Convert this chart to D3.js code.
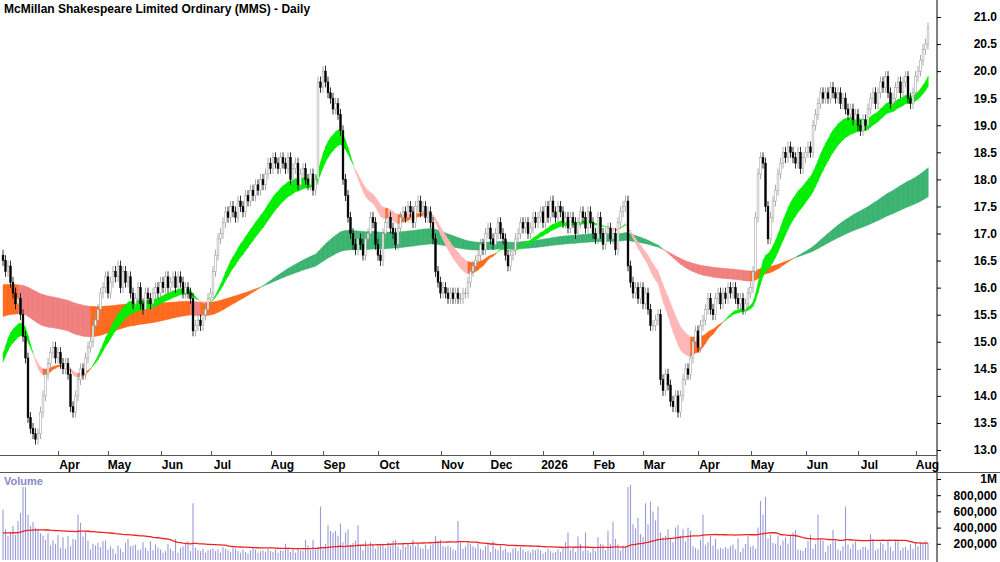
<!DOCTYPE html>
<html>
<head>
<meta charset="utf-8">
<script src="https://cdn.jsdelivr.net/npm/d3@7/dist/d3.min.js"></script>
<style>
  body { margin: 0; background: #fff; }
  text { font-family: "Liberation Sans", Arial, sans-serif; }
</style>
</head>
<body>
<svg id="chart" width="1000" height="562"></svg>
<script>
// daily closes
var closes = [
  16.5,16.3,16.4,16.1,15.9,15.7,15.8,15.5,15.1,14.7,
  13.6,13.4,13.3,13.2,13.3,13.7,14.0,14.4,14.6,14.8,
  14.9,14.7,14.8,14.6,14.5,14.6,14.4,13.8,13.7,14.0,
  14.3,14.5,14.4,14.7,14.9,15.0,15.3,15.4,15.6,15.9,
  16.0,16.2,15.9,16.1,16.3,16.2,16.4,16.0,16.3,16.1,
  16.2,15.9,15.7,15.8,16.0,15.7,15.6,15.9,15.8,15.7,
  15.9,16.0,15.9,16.1,16.0,16.2,16.0,16.1,16.2,16.0,
  16.2,16.1,15.9,16.0,15.9,15.8,15.2,15.3,15.4,15.3,
  15.5,15.6,15.8,15.9,16.3,16.6,16.9,17.0,17.2,17.4,
  17.3,17.5,17.4,17.3,17.6,17.5,17.4,17.7,17.6,17.8,
  17.7,17.9,17.8,18.0,17.9,18.1,18.3,18.2,18.4,18.3,
  18.2,18.4,18.3,18.2,18.4,18.0,18.2,18.3,17.9,18.1,
  18.2,18.0,17.9,18.1,17.8,18.0,19.8,19.7,20.0,19.8,
  19.6,19.5,19.3,19.4,19.2,18.9,18.0,17.7,17.3,17.0,
  16.8,16.7,16.9,16.8,16.6,16.9,17.0,17.3,17.2,16.8,
  16.6,16.5,17.0,17.2,17.3,17.1,17.0,16.8,17.1,17.3,
  17.4,17.3,17.5,17.4,17.2,17.5,17.6,17.4,17.5,17.3,
  17.4,17.2,16.9,16.3,16.1,15.9,16.0,15.9,15.8,15.9,
  15.8,15.9,15.8,15.8,15.9,15.9,16.1,16.3,16.4,16.5,
  16.6,16.8,16.7,17.0,17.1,16.9,16.8,17.0,17.2,17.0,
  16.9,16.6,16.4,16.6,16.7,16.9,17.0,17.2,17.1,17.2,
  17.0,17.1,17.3,17.2,17.3,17.4,17.2,17.5,17.3,17.6,
  17.4,17.3,17.5,17.4,17.2,17.3,17.1,17.3,17.2,17.0,
  17.2,17.4,17.3,17.1,17.4,17.2,17.0,16.9,17.3,17.0,
  16.8,17.0,17.1,16.9,17.0,16.7,17.2,17.4,17.5,17.6,
  16.4,16.1,15.9,16.0,15.8,16.0,15.7,15.9,15.6,15.3,
  15.3,15.4,15.5,14.3,14.1,14.4,14.2,13.9,13.8,14.0,
  13.7,14.0,14.3,14.5,14.4,14.7,15.0,15.2,14.9,15.3,
  15.4,15.6,15.8,15.6,15.5,15.8,15.9,15.7,15.9,15.8,
  16.0,15.9,16.0,15.8,15.7,15.8,15.6,15.7,15.9,16.0,
  16.3,17.3,18.1,18.4,18.3,17.5,16.9,17.3,17.6,17.8,
  18.1,18.3,18.5,18.4,18.6,18.5,18.4,18.3,18.5,18.2,
  18.4,18.5,18.6,18.5,19.0,19.2,19.4,19.6,19.5,19.6,
  19.5,19.7,19.6,19.5,19.6,19.4,19.5,19.3,19.2,19.3,
  19.1,19.2,19.0,18.9,19.1,19.0,19.3,19.5,19.6,19.4,
  19.6,19.8,19.7,19.9,19.6,19.4,19.5,19.7,19.8,19.6,
  19.8,19.9,19.5,19.4,19.6,19.9,20.0,20.2,20.4,20.5,
  20.8
];
var firstOpen = 16.6;

// daily volume, thousands of shares
var volumes = [
  620,380,300,350,420,310,480,580,900,900,
  560,420,470,400,380,330,300,250,330,180,
  240,200,310,150,280,140,300,170,260,250,
  560,460,290,350,240,130,200,180,210,160,
  230,240,130,170,140,80,180,140,100,210,
  260,170,180,190,120,130,220,150,110,230,
  120,190,150,130,90,110,200,140,110,260,
  90,150,170,210,230,110,700,150,120,110,
  140,90,120,130,140,110,130,90,160,140,
  120,100,150,140,110,90,130,100,80,120,
  150,130,90,110,120,100,140,110,100,130,
  90,120,110,200,150,100,130,90,140,120,
  110,250,180,120,250,130,160,660,130,200,
  430,360,340,360,300,450,220,340,380,180,
  210,240,430,180,120,230,170,220,190,140,
  170,190,200,150,220,180,240,250,170,130,
  190,160,200,180,250,170,210,150,140,190,
  130,180,200,300,230,250,170,160,180,160,
  130,120,480,220,140,170,220,200,170,150,
  200,140,120,170,190,100,230,140,120,180,
  120,140,100,90,140,150,110,160,130,100,
  110,90,130,120,140,120,80,100,140,110,
  90,100,130,100,160,220,340,120,150,100,
  290,200,110,340,120,90,140,110,280,200,
  190,120,360,200,470,260,190,120,180,160,
  900,930,440,390,520,320,280,700,440,720,
  600,490,660,340,280,300,380,260,220,400,
  430,300,380,230,400,360,170,150,130,250,
  560,180,220,300,180,260,130,150,140,160,
  140,170,190,130,270,100,150,200,300,160,
  180,140,400,730,560,780,270,310,210,200,
  300,180,240,280,200,300,340,370,130,120,
  110,150,230,310,140,200,560,250,240,100,
  180,200,370,240,130,110,170,660,190,140,
  200,230,120,130,160,160,130,320,260,120,
  140,220,200,120,240,160,110,230,230,120,
  150,160,120,200,140,220,170,220,210,230,
  210
];

// month labels and the bar index where each month starts
var monthLabels = ["Apr","May","Jun","Jul","Aug","Sep","Oct","Nov","Dec","2026","Feb","Mar","Apr","May","Jun","Jul","Aug"];
var monthStarts = [22,42,63,83,107,128,150,175,195,216,236,256,278,299,321,342,365];

var priceTicks = [13.0,13.5,14.0,14.5,15.0,15.5,16.0,16.5,17.0,17.5,18.0,18.5,19.0,19.5,20.0,20.5,21.0];
var volTicks = [200000,400000,600000,800000,1000000];

// moving-average ribbons: periods and values carried in from before the chart starts
var shortPeriods = [20, 30], shortSeed = [14.6, 14.5];
var longPeriods = [130, 220], longSeed = [15.45, 16.05];
var volAvgPeriod = 60, volAvgSeed = 330;

var svg = d3.select('#chart');
var W = 1000, plotRight = 937;
var n = closes.length;

var x = d3.scaleLinear().domain([0, n - 1]).range([3, 928]);
var y = d3.scaleLinear().domain([13, 21]).range([450, 17]);
var yv = d3.scaleLinear().domain([0, 1000000]).range([560, 479]);

function ema(period, seed) {
    var k = 2 / (period + 1), v = seed, out = [];
    closes.forEach(function (c) { v = v + k * (c - v); out.push(v); });
    return out;
}

function drawRibbon(fastArr, slowArr, cols) {
    for (var i = 0; i < n - 1; i++) {
        var bull = fastArr[i + 1] >= slowArr[i + 1];
        var col = bull ? cols.up : (fastArr[i + 1] >= fastArr[i] ? cols.turn : cols.down);
        var pts = [[x(i), y(fastArr[i])], [x(i + 1) + 0.3, y(fastArr[i + 1])],
                   [x(i + 1) + 0.3, y(slowArr[i + 1])], [x(i), y(slowArr[i])]];
        svg.append('path')
            .attr('d', 'M' + pts.join('L') + 'Z')
            .attr('fill', col)
            .attr('stroke', col)
            .attr('stroke-width', 0.4);
    }
}

var longF = ema(longPeriods[0], longSeed[0]), longS = ema(longPeriods[1], longSeed[1]);
var shortF = ema(shortPeriods[0], shortSeed[0]), shortS = ema(shortPeriods[1], shortSeed[1]);
drawRibbon(longF, longS, { up: '#3cb371', down: '#f08080', turn: '#ff6a1f' });
drawRibbon(shortF, shortS, { up: '#00ee00', down: '#ffb6b6', turn: '#ff6a1f' });

// candles
var candles = closes.map(function (c, i) {
    var o = i === 0 ? firstOpen : closes[i - 1];
    return { i: i, o: o, c: c, h: Math.max(o, c) + 0.1, l: Math.min(o, c) - 0.1 };
});
var cg = svg.append('g');
cg.selectAll('line').data(candles).enter().append('line')
    .attr('x1', function (d) { return x(d.i); })
    .attr('x2', function (d) { return x(d.i); })
    .attr('y1', function (d) { return y(d.h); })
    .attr('y2', function (d) { return y(d.l); })
    .attr('stroke', function (d) { return d.c >= d.o ? '#999' : '#000'; })
    .attr('stroke-width', 0.8);
cg.selectAll('rect').data(candles).enter().append('rect')
    .attr('x', function (d) { return x(d.i) - 0.9; })
    .attr('width', 1.8)
    .attr('y', function (d) { return y(Math.max(d.o, d.c)); })
    .attr('height', function (d) { return Math.max(0.8, Math.abs(y(d.o) - y(d.c))); })
    .attr('fill', function (d) { return d.c >= d.o ? '#fff' : '#000'; })
    .attr('stroke', function (d) { return d.c >= d.o ? '#999' : '#000'; })
    .attr('stroke-width', 0.5);

// title
svg.append('text').attr('x', 4).attr('y', 13)
    .attr('font-size', 12).attr('font-weight', 'bold').attr('fill', '#000')
    .text('McMillan Shakespeare Limited Ordinary (MMS) - Daily');

// price axis
var ya = d3.axisRight(y).tickValues(priceTicks).tickFormat(d3.format('.1f')).tickSize(4);
var yg = svg.append('g').attr('transform', 'translate(' + plotRight + ',0)').call(ya);
yg.selectAll('text').attr('x', 60).attr('text-anchor', 'end')
    .attr('font-size', 12).attr('font-weight', 'bold').attr('font-family', 'Liberation Sans, Arial');
yg.select('.domain').attr('d', 'M0,0V562');

// month axis strip
svg.append('line').attr('x1', 0).attr('x2', plotRight).attr('y1', 455.5).attr('y2', 455.5).attr('stroke', '#555');
svg.append('line').attr('x1', 0).attr('x2', W).attr('y1', 472.5).attr('y2', 472.5).attr('stroke', '#555');
var mg = svg.append('g');
monthStarts.forEach(function (m, k) {
    var mx = Math.round(x(m)) + 0.5;
    mg.append('line').attr('x1', mx).attr('x2', mx).attr('y1', 451).attr('y2', 456).attr('stroke', '#555');
    mg.append('text').attr('x', mx + 11).attr('y', 469).attr('text-anchor', 'middle')
        .attr('font-size', 12).attr('font-weight', 'bold').text(monthLabels[k]);
});

// volume panel
svg.append('text').attr('x', 4).attr('y', 485)
    .attr('font-size', 11).attr('font-weight', 'bold').attr('fill', '#8888cc').text('Volume');
svg.append('g').selectAll('line').data(volumes).enter().append('line')
    .attr('x1', function (d, i) { return x(i); })
    .attr('x2', function (d, i) { return x(i); })
    .attr('y1', yv(0))
    .attr('y2', function (d) { return yv(d * 1000); })
    .attr('stroke', '#9a9ad8')
    .attr('stroke-width', 1.1);

// simple average, padded with the level carried in from before the chart
var volAvg = volumes.map(function (v, i) {
    var s = volumes.slice(Math.max(0, i - volAvgPeriod + 1), i + 1);
    var pad = volAvgPeriod - s.length;
    return (d3.sum(s) + pad * volAvgSeed) / volAvgPeriod * 1000;
});
svg.append('path').datum(volAvg)
    .attr('d', d3.line().x(function (d, i) { return x(i); }).y(function (d) { return yv(d); }))
    .attr('fill', 'none').attr('stroke', '#ee2222').attr('stroke-width', 1.3);

var va = d3.axisRight(yv).tickValues(volTicks)
    .tickFormat(function (d) { return d === 1000000 ? '1M' : d3.format(',')(d); }).tickSize(4);
var vg = svg.append('g').attr('transform', 'translate(' + plotRight + ',0)').call(va);
vg.select('.domain').remove();
vg.selectAll('text').attr('x', 60).attr('text-anchor', 'end')
    .attr('font-size', 12).attr('font-weight', 'bold').attr('font-family', 'Liberation Sans, Arial');
</script>
</body>
</html>
